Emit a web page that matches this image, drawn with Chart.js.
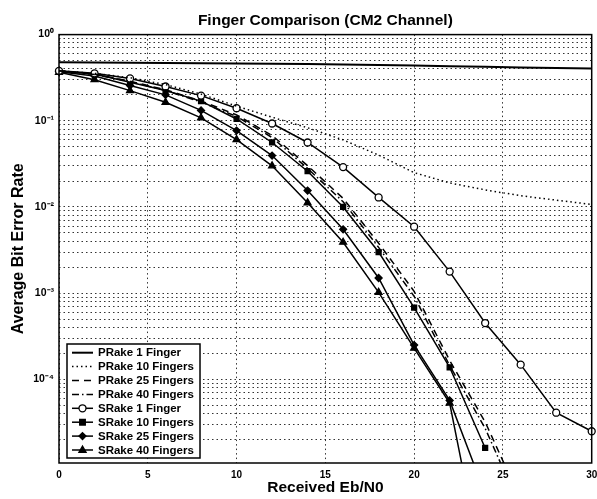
<!DOCTYPE html>
<html>
<head>
<meta charset="utf-8">
<title>Finger Comparison (CM2 Channel)</title>
<script src="https://cdn.jsdelivr.net/npm/chart.js@4.4.1/dist/chart.umd.min.js"></script>
<style>
  html, body { margin: 0; padding: 0; background: #fff; }
  #wrap { width: 597px; height: 499px; }
</style>
</head>
<body>
<div id="wrap"><canvas id="chart" width="597" height="499"></canvas></div>
<script>
// Eb/N0 in dB, the points where the curves were sampled
const ebNo = [0, 2, 4, 6, 8, 10, 12, 14, 16, 18, 20, 22, 24, 26, 28, 30];

// average bit error rate
const prake1 = [0.477, 0.474, 0.471, 0.468, 0.465, 0.462, 0.459, 0.455, 0.449, 0.443, 0.437, 0.43, 0.423, 0.416, 0.41, 0.404];
const prake10 = [0.38, 0.355, 0.316, 0.263, 0.204, 0.148, 0.11, 0.083, 0.06, 0.04, 0.025, 0.019, 0.0158, 0.0135, 0.012, 0.0107];
const prake25 = [0.38, 0.347, 0.288, 0.229, 0.17, 0.117, 0.0676, 0.0302, 0.0126, 0.0038, 0.00105, 0.000166, 0.000032, 0.000004];
const prake40 = [0.38, 0.345, 0.285, 0.225, 0.165, 0.112, 0.064, 0.028, 0.0115, 0.0034, 0.00092, 0.000145, 0.000027, 0.0000032];
const srake1 = [0.38, 0.355, 0.31, 0.25, 0.196, 0.14, 0.093, 0.056, 0.029, 0.0129, 0.0059, 0.00178, 0.00045, 0.000148, 0.000041, 0.000025];
const srake10 = [0.375, 0.35, 0.28, 0.224, 0.169, 0.105, 0.056, 0.026, 0.01, 0.003, 0.00068, 0.000138, 0.000016];
const srake25 = [0.37, 0.33, 0.257, 0.2, 0.132, 0.077, 0.0395, 0.0155, 0.0055, 0.0015, 0.00025, 0.000057, 0.0000047];
const srake40 = [0.365, 0.3, 0.224, 0.164, 0.108, 0.0605, 0.03, 0.0112, 0.0039, 0.00102, 0.00023, 0.000053, 0.00000046];

const seriesNames = ['PRake 1 Finger', 'PRake 10 Fingers', 'PRake 25 Fingers', 'PRake 40 Fingers',
                     'SRake 1 Finger', 'SRake 10 Fingers', 'SRake 25 Fingers', 'SRake 40 Fingers'];

const xTicks = [0, 5, 10, 15, 20, 25, 30];
const yMajorTicks = [1, 1e-1, 1e-2, 1e-3, 1e-4];
const yTickLabels = ['10⁰', '10⁻¹', '10⁻²', '10⁻³', '10⁻⁴'];

const FONT = '"Liberation Sans", Arial, Helvetica, sans-serif';
Chart.defaults.font.family = FONT;
Chart.defaults.color = '#000';

function toPoints(values) {
    return values.map(function (v, i) { return { x: ebNo[i], y: v }; });
}

function lineSet(label, values, dash, width) {
    return {
        label: label,
        data: toPoints(values),
        borderColor: '#000',
        borderWidth: width,
        borderDash: dash,
        pointRadius: 0,
        tension: 0,
        clip: { left: 8, right: 8, top: 8, bottom: 0 }
    };
}

function markerSet(label, values, style, fill, radius) {
    return {
        label: label,
        data: toPoints(values),
        borderColor: '#000',
        borderWidth: 1.5,
        borderDash: [],
        pointStyle: style,
        pointRadius: radius,
        pointBorderWidth: 1.3,
        pointBorderColor: '#000',
        pointBackgroundColor: fill,
        tension: 0,
        clip: { left: 8, right: 8, top: 8, bottom: 0 }
    };
}

// small marker drawing for the legend
function drawMarker(ctx, style, x, y, r, fill) {
    ctx.save();
    ctx.fillStyle = fill;
    ctx.strokeStyle = '#000';
    ctx.lineWidth = 1.3;
    ctx.beginPath();
    if (style === 'circle') {
        ctx.arc(x, y, r, 0, Math.PI * 2);
    } else if (style === 'rect') {
        ctx.rect(x - r * 0.8, y - r * 0.8, r * 1.6, r * 1.6);
    } else if (style === 'rectRot') {
        ctx.moveTo(x, y - r); ctx.lineTo(x + r, y); ctx.lineTo(x, y + r); ctx.lineTo(x - r, y);
        ctx.closePath();
    } else if (style === 'triangle') {
        ctx.moveTo(x, y - r); ctx.lineTo(x + r * 0.9, y + r * 0.6); ctx.lineTo(x - r * 0.9, y + r * 0.6);
        ctx.closePath();
    }
    ctx.fill();
    ctx.stroke();
    ctx.restore();
}

// axes box and the legend inside the plot
const boxAndLegend = {
    id: 'boxAndLegend',
    afterDatasetsDraw: function (chart) {
        const ctx = chart.ctx;
        const a = chart.chartArea;
        ctx.save();
        ctx.strokeStyle = '#000';
        ctx.lineWidth = 1.5;
        ctx.setLineDash([]);
        ctx.strokeRect(a.left, a.top, a.right - a.left, a.bottom - a.top);

        const lx = 67, ly = 344, lw = 133, lh = 114;
        ctx.fillStyle = '#fff';
        ctx.fillRect(lx, ly, lw, lh);
        ctx.strokeRect(lx, ly, lw, lh);

        ctx.font = 'bold 11.5px ' + FONT;
        ctx.textBaseline = 'middle';
        chart.data.datasets.forEach(function (ds, i) {
            const y = ly + 8.7 + i * 13.9;
            ctx.strokeStyle = '#000';
            ctx.lineWidth = ds.borderWidth;
            ctx.setLineDash(ds.borderDash || []);
            ctx.beginPath();
            ctx.moveTo(lx + 5, y);
            ctx.lineTo(lx + 26, y);
            ctx.stroke();
            ctx.setLineDash([]);
            if (ds.pointRadius > 0) {
                drawMarker(ctx, ds.pointStyle, lx + 15.5, y, ds.pointRadius, ds.pointBackgroundColor);
            }
            ctx.fillStyle = '#000';
            ctx.fillText(ds.label, lx + 31, y + 0.5);
        });
        ctx.restore();
    }
};

const gridColor = 'rgba(0,0,0,0.8)';

new Chart(document.getElementById('chart').getContext('2d'), {
    type: 'line',
    data: {
        datasets: [
            lineSet(seriesNames[0], prake1, [], 2),
            lineSet(seriesNames[1], prake10, [1.5, 3], 1.5),
            lineSet(seriesNames[2], prake25, [7, 5], 1.5),
            lineSet(seriesNames[3], prake40, [7, 3, 1.5, 3], 1.5),
            markerSet(seriesNames[4], srake1, 'circle', '#fff', 3.5),
            markerSet(seriesNames[5], srake10, 'rect', '#000', 3.5),
            markerSet(seriesNames[6], srake25, 'rectRot', '#000', 3.5),
            markerSet(seriesNames[7], srake40, 'triangle', '#000', 4)
        ]
    },
    options: {
        responsive: false,
        devicePixelRatio: 1,
        animation: false,
        events: [],
        layout: { padding: { left: 0, right: 5, top: 0, bottom: 0 } },
        plugins: {
            legend: { display: false },
            tooltip: { enabled: false },
            title: {
                display: true,
                text: 'Finger Comparison (CM2 Channel)',
                font: { size: 15.5, weight: 'bold' },
                color: '#000',
                fullSize: false,
                padding: { top: 11, bottom: 5 }
            }
        },
        scales: {
            x: {
                type: 'linear',
                min: 0,
                max: 30,
                afterBuildTicks: function (axis) {
                    axis.ticks = xTicks.map(function (v) { return { value: v }; });
                },
                afterFit: function (axis) {
                    axis.height = 36;
                    axis.paddingLeft = 0;
                    axis.paddingRight = 0;
                },
                grid: { color: gridColor, lineWidth: 1, drawTicks: false },
                border: { display: false, dash: [1.5, 3] },
                ticks: {
                    autoSkip: false,
                    maxRotation: 0,
                    padding: 6,
                    font: { size: 10, weight: 'bold' },
                    callback: function (v) { return String(v); }
                },
                title: {
                    display: true,
                    text: 'Received Eb/N0',
                    font: { size: 15.5, weight: 'bold' },
                    padding: { top: 0, bottom: 2 }
                }
            },
            y: {
                type: 'logarithmic',
                min: 1.07e-5,
                max: 1,
                afterBuildTicks: function (axis) {
                    const t = [];
                    for (let e = -5; e < 0; e++) {
                        for (let m = 1; m < 10; m++) {
                            const v = m * Math.pow(10, e);
                            if (v >= axis.min && v <= axis.max) t.push({ value: v });
                        }
                    }
                    t.push({ value: 1 });
                    axis.ticks = t;
                },
                afterFit: function (axis) {
                    axis.width = 59;
                    axis.paddingTop = 0;
                    axis.paddingBottom = 0;
                },
                grid: { color: gridColor, lineWidth: 1, drawTicks: false },
                border: { display: false, dash: [1.5, 3] },
                ticks: {
                    autoSkip: false,
                    padding: 5,
                    font: { size: 10.5, weight: 'bold' },
                    callback: function (value) {
                        const i = yMajorTicks.findIndex(function (v) { return Math.abs(v - value) / v < 1e-6; });
                        return i >= 0 ? yTickLabels[i] : '';
                    }
                },
                title: {
                    display: true,
                    text: 'Average Bit Error Rate',
                    font: { size: 16, weight: 'bold' },
                    padding: { top: 9, bottom: 0 }
                }
            }
        }
    },
    plugins: [boxAndLegend]
});
</script>
</body>
</html>
